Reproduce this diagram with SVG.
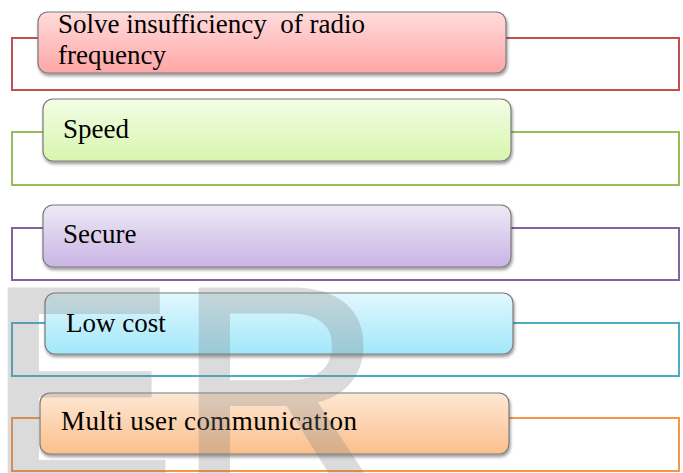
<svg xmlns="http://www.w3.org/2000/svg" width="683" height="473" viewBox="0 0 683 473">
<style>
.outer{fill:none;stroke-width:2}
.box{stroke:#7a7a7a;stroke-width:1.2;filter:url(#sh)}
.lbl{font-family:"Liberation Serif","Times New Roman",serif;font-size:27px;fill:#000}
.wm{font-family:"Liberation Sans",Arial,sans-serif;font-size:282px;fill:#808080;stroke:#808080;stroke-width:5;stroke-linejoin:miter;letter-spacing:3px}
</style>
<defs>
<filter id="sh" x="-5%" y="-20%" width="110%" height="150%">
<feDropShadow dx="1" dy="2.5" stdDeviation="1.6" flood-color="#000" flood-opacity="0.4"/>
</filter>
<linearGradient id="gr" x1="0" y1="0" x2="0" y2="1"><stop offset="0" stop-color="#ffdcdc"/><stop offset="1" stop-color="#ffa6a6"/></linearGradient>
<linearGradient id="gg" x1="0" y1="0" x2="0" y2="1"><stop offset="0" stop-color="#f4fde6"/><stop offset="1" stop-color="#d6f6ad"/></linearGradient>
<linearGradient id="gp" x1="0" y1="0" x2="0" y2="1"><stop offset="0" stop-color="#eee9f6"/><stop offset="1" stop-color="#c9b4e3"/></linearGradient>
<linearGradient id="gc" x1="0" y1="0" x2="0" y2="1"><stop offset="0" stop-color="#e2f8fe"/><stop offset="1" stop-color="#a2e7fa"/></linearGradient>
<linearGradient id="go" x1="0" y1="0" x2="0" y2="1"><stop offset="0" stop-color="#fee8d4"/><stop offset="1" stop-color="#fbbf8c"/></linearGradient>
</defs>
<rect width="683" height="473" fill="#fff"/>
<g id="n1">
<rect class="outer" x="12" y="38" width="667" height="52" stroke="#c0504d"/>
<rect class="box" x="38" y="12" width="468" height="61" rx="10" fill="url(#gr)"/>
<text class="lbl" x="58" y="33">Solve insufficiency&#160; of radio</text>
<text class="lbl" x="58" y="64">frequency</text>
</g>
<g id="n2">
<rect class="outer" x="12" y="132" width="667" height="53" stroke="#9bbb59"/>
<rect class="box" x="43" y="99" width="468" height="62" rx="10" fill="url(#gg)"/>
<text class="lbl" x="63" y="138">Speed</text>
</g>
<g id="n3">
<rect class="outer" x="12" y="228" width="667" height="52" stroke="#8064a2"/>
<rect class="box" x="43" y="205" width="468" height="62" rx="10" fill="url(#gp)"/>
<text class="lbl" x="63" y="243">Secure</text>
</g>
<g id="n4">
<rect class="outer" x="12" y="323" width="667" height="53" stroke="#4bacc6"/>
<rect class="box" x="45" y="293" width="468" height="61" rx="10" fill="url(#gc)"/>
<text class="lbl" x="66" y="332">Low cost</text>
</g>
<g id="n5">
<rect class="outer" x="12" y="418" width="667" height="53" stroke="#f79646"/>
<rect class="box" x="40" y="393" width="469" height="61" rx="10" fill="url(#go)"/>
<text class="lbl" x="61" y="430" textLength="296" lengthAdjust="spacing">Multi user communication</text>
</g>
<g id="connectors"/>
<g id="watermark" opacity="0.28">
<text class="wm" x="-13" y="484">ER</text>
</g>
</svg>
